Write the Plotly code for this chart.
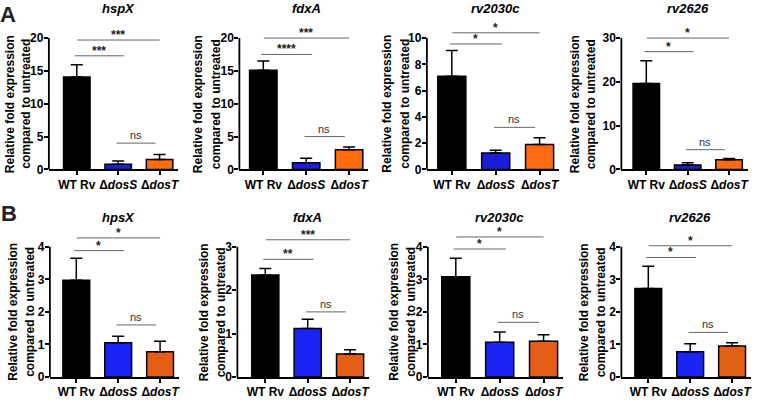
import plotly.graph_objects as go

# ---------------- data ----------------
categories = ["WT Rv", "ΔdosS", "ΔdosT"]
tick_text = ["WT Rv", "Δ<i>dosS</i>", "Δ<i>dosT</i>"]

genes_A = ["hspX", "fdxA", "rv2030c", "rv2626"]
genes_B = ["hpsX", "fdxA", "rv2030c", "rv2626"]

# Panel A means / SEM (upper)
A_hspX = [14.05, 0.80, 1.50]
A_hspX_err = [1.90, 0.48, 0.75]
A_fdxA = [15.1, 1.0, 3.0]
A_fdxA_err = [1.4, 0.7, 0.4]
A_rv2030c = [7.1, 1.25, 1.9]
A_rv2030c_err = [1.95, 0.2, 0.5]
A_rv2626 = [19.6, 1.0, 2.2]
A_rv2626_err = [5.2, 0.5, 0.3]

# Panel B means / SEM (upper)
B_hpsX = [2.97, 1.05, 0.78]
B_hpsX_err = [0.68, 0.20, 0.32]
B_fdxA = [2.35, 1.12, 0.53]
B_fdxA_err = [0.15, 0.21, 0.10]
B_rv2030c = [3.08, 1.07, 1.10]
B_rv2030c_err = [0.57, 0.31, 0.20]
B_rv2626 = [2.72, 0.78, 0.95]
B_rv2626_err = [0.68, 0.24, 0.10]

# y-axis ticks
A_ticks = [[0, 5, 10, 15, 20], [0, 5, 10, 15, 20], [0, 2, 4, 6, 8, 10], [0, 10, 20, 30]]
B_ticks = [[0, 1, 2, 3, 4], [0, 1, 2, 3], [0, 1, 2, 3, 4], [0, 1, 2, 3, 4]]

# significance: compared pairs, labels and bracket heights per panel
sig_pairs = [(0, 1), (0, 2), (1, 2)]
A_sig_labels = [["***", "***", "ns"], ["****", "***", "ns"], ["*", "*", "ns"], ["*", "*", "ns"]]
A_sig_heights = [[17.3, 19.7, 4.0], [17.5, 20.0, 5.0], [9.55, 10.4, 3.2], [26.9, 30.0, 4.5]]
B_sig_labels = [["*", "*", "ns"], ["**", "***", "ns"], ["*", "*", "ns"], ["*", "*", "ns"]]
B_sig_heights = [[3.88, 4.27, 1.6], [2.71, 3.16, 1.5], [3.93, 4.30, 1.68], [3.67, 4.03, 1.37]]

ytitle_lines = ["Relative fold expression", "compared to untreated"]

# ---------------- style / layout ----------------
W, H = 764, 405
FONT = "Liberation Sans, Arial, sans-serif"
colors_A = ["#000000", "#1c1cdc", "#ff6b0f"]
colors_B = ["#000000", "#1a24f5", "#e35f15"]

# pixel geometry: (y-axis x position, center of first bar, category spacing)
cols_A = [(49, 77, 41.5), (240, 264, 43), (428, 453, 44), (623, 648, 41.5)]
cols_B = [(50, 76.5, 42), (238, 266, 42.5), (429, 457, 44), (623, 650, 42)]
# x pixel centres of the two y-title lines
ytitle_x_A = [(9.5, 26), (198, 216), (388, 406), (576, 592)]
ytitle_x_B = [(13, 30), (204, 221), (395, 412), (585, 602)]
rowA_y = (170, 35)   # pixel y of 0 and of top tick
rowB_y = (383.5, 249.5)
X_RIGHT = 2.45
pair_offsets = {(0, 1): (-0.06, 1.14), (0, 2): (0.0, 2.0), (1, 2): (0.95, 1.9)}

panels = []
A_vals = [(A_hspX, A_hspX_err), (A_fdxA, A_fdxA_err), (A_rv2030c, A_rv2030c_err), (A_rv2626, A_rv2626_err)]
B_vals = [(B_hpsX, B_hpsX_err), (B_fdxA, B_fdxA_err), (B_rv2030c, B_rv2030c_err), (B_rv2626, B_rv2626_err)]
for i in range(4):
    panels.append(dict(gene=genes_A[i], vals=A_vals[i], ticks=A_ticks[i], labels=A_sig_labels[i],
                       heights=A_sig_heights[i], col=cols_A[i], row=rowA_y, colors=colors_A,
                       tx=ytitle_x_A[i]))
for i in range(4):
    panels.append(dict(gene=genes_B[i], vals=B_vals[i], ticks=B_ticks[i], labels=B_sig_labels[i],
                       heights=B_sig_heights[i], col=cols_B[i], row=rowB_y, colors=colors_B,
                       tx=ytitle_x_B[i]))

fig = go.Figure()
layout = {}
annotations = []
shapes = []
for k, p in enumerate(panels):
    n = k + 1
    xa = "x" if n == 1 else f"x{n}"
    ya = "y" if n == 1 else f"y{n}"
    axpx, c0, s = p["col"]
    xr = [-(c0 - axpx) / s, X_RIGHT]
    left = axpx
    right = c0 + X_RIGHT * s
    y0px, ytpx = p["row"]
    top = p["ticks"][-1]
    rtop = max(top, max(p["heights"])) * 1.02
    top_px = y0px - (y0px - ytpx) * rtop / top
    means, errs = p["vals"]
    fig.add_trace(go.Bar(
        x=[0, 1, 2], y=means, xaxis=xa, yaxis=ya, width=0.64,
        marker=dict(color=p["colors"], line=dict(color="black", width=1.5)),
        error_y=dict(type="data", array=errs, arrayminus=[0, 0, 0], symmetric=False,
                     color="black", thickness=1.5, width=6),
        showlegend=False, hoverinfo="y",
    ))
    axkey_x = "xaxis" if n == 1 else f"xaxis{n}"
    axkey_y = "yaxis" if n == 1 else f"yaxis{n}"
    layout[axkey_x] = dict(
        domain=[left / W, right / W], range=xr, anchor=ya,
        tickvals=[0, 1, 2], ticktext=tick_text, ticks="outside", ticklen=4, tickwidth=1.5,
        tickcolor="black", showline=True, linecolor="black", linewidth=1.8,
        showgrid=False, zeroline=False, fixedrange=True, ticklabelstandoff=-1,
        tickfont=dict(family=FONT, size=12, color="black", weight="bold"),
    )
    layout[axkey_y] = dict(
        domain=[(H - y0px) / H, (H - top_px) / H], range=[0, rtop], anchor=xa,
        tickvals=p["ticks"], ticks="outside", ticklen=4, tickwidth=1.5, tickcolor="black",
        showline=False, showgrid=False, zeroline=False, fixedrange=True,
        ticklabelstandoff=-2,
        tickfont=dict(family=FONT, size=12, color="black", weight="bold"),
    )
    # visible y-axis line only up to the top tick
    shapes.append(dict(type="line", xref=f"{xa} domain", yref=ya, x0=0, x1=0, y0=0, y1=top,
                       line=dict(color="black", width=1.8)))
    # y titles (two lines)
    ymid = (H - (y0px + ytpx) / 2) / H
    for line_txt, lx in zip(ytitle_lines, p["tx"]):
        annotations.append(dict(
            text=f"<b>{line_txt}</b>", xref="paper", yref="paper", x=lx / W, y=ymid,
            textangle=-90, showarrow=False, xanchor="center", yanchor="middle",
            font=dict(family=FONT, size=12, color="black"),
        ))
    # gene title
    annotations.append(dict(
        text=f"<b><i>{p['gene']}</i></b>", xref="paper", yref="paper",
        x=(c0 + 1.0 * s) / W, y=(H - (ytpx - 30)) / H, showarrow=False,
        xanchor="center", yanchor="middle",
        font=dict(family=FONT, size=13, color="black"),
    ))
    # significance brackets
    for (pair, lab, h) in zip(sig_pairs, p["labels"], p["heights"]):
        xs, xe = pair_offsets[pair]
        annotations.append(dict(
            x=xe, y=h, ax=xs, ay=h, xref=xa, yref=ya, axref=xa, ayref=ya,
            showarrow=True, arrowhead=0, arrowwidth=1, arrowcolor="#666666",
            text=" ", font=dict(size=1), borderpad=0, standoff=0, startstandoff=0,
        ))
        if lab == "ns":
            annotations.append(dict(
                x=(xs + xe) / 2, y=h, xref=xa, yref=ya, text="ns", showarrow=False,
                xanchor="center", yanchor="bottom", yshift=0,
                font=dict(family="Liberation Sans Narrow, Liberation Sans, Arial", size=11, color="#333333"),
            ))
        else:
            annotations.append(dict(
                x=(xs + xe) / 2, y=h, xref=xa, yref=ya, text=lab, showarrow=False,
                xanchor="center", yanchor="bottom", yshift=-4,
                font=dict(family=FONT, size=12, color="#222222", weight="bold"),
            ))

# panel letters
annotations.append(dict(text="<b>A</b>", xref="paper", yref="paper", x=8.5 / W, y=(H - 10.5) / H,
                        showarrow=False, xanchor="center", yanchor="middle",
                        font=dict(family=FONT, size=22, color="#222222")))
annotations.append(dict(text="<b>B</b>", xref="paper", yref="paper", x=9.5 / W, y=(H - 215) / H,
                        showarrow=False, xanchor="center", yanchor="middle",
                        font=dict(family=FONT, size=22, color="#222222")))

fig.update_layout(
    width=W, height=H, margin=dict(l=0, r=0, t=0, b=0),
    paper_bgcolor="white", plot_bgcolor="white",
    annotations=annotations, shapes=shapes, bargap=0.3, showlegend=False,
    font=dict(family=FONT, color="black"),
    **layout,
)
fig.write_html("out.html", config={"displayModeBar": False},
               post_script="document.body.style.margin='0';document.body.style.overflow='hidden';")
